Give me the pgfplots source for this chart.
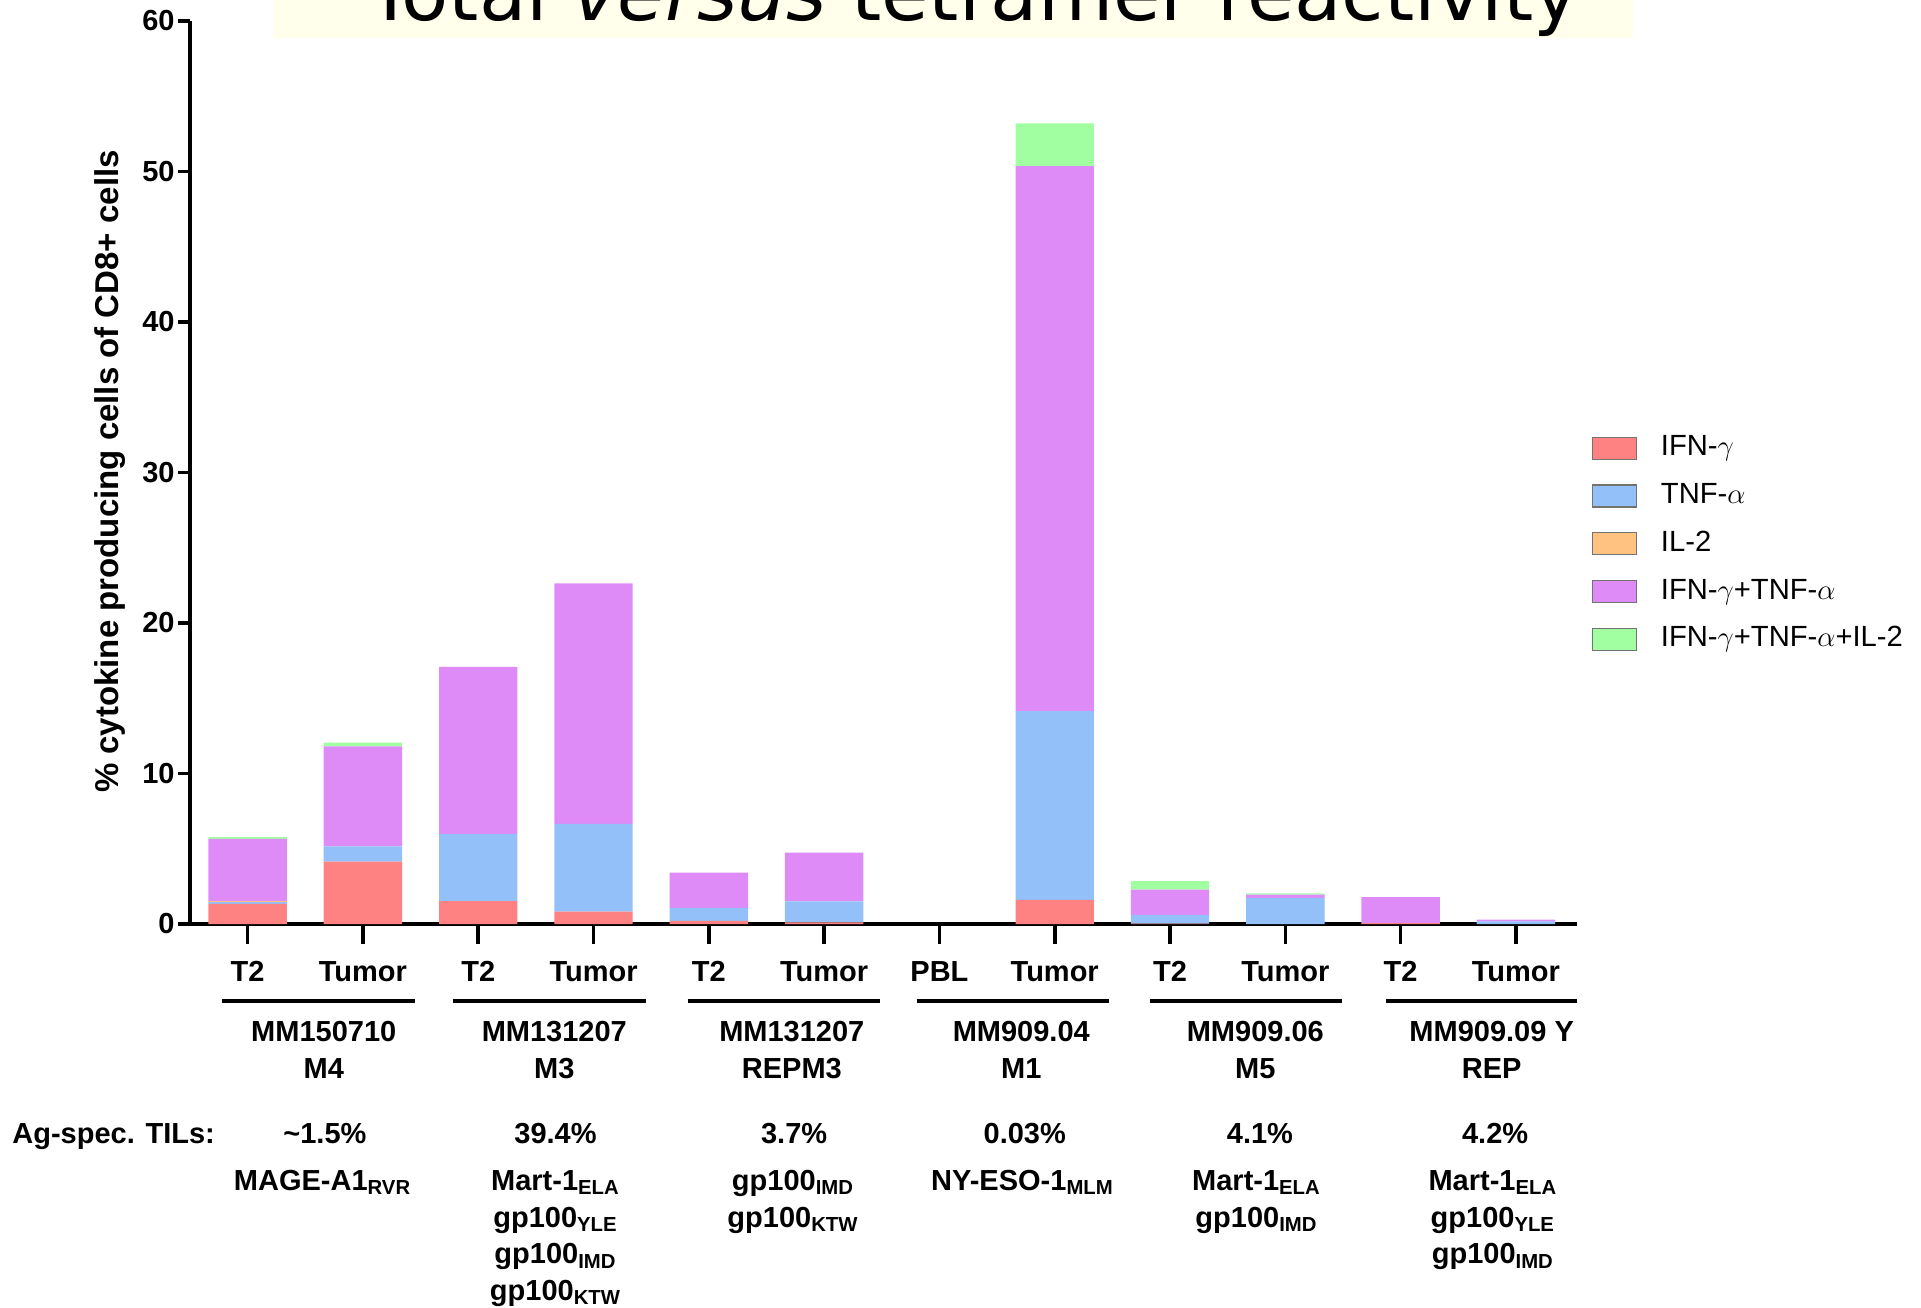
\documentclass[border=0pt]{standalone}
\usepackage{fontspec}
\setmainfont{Liberation Sans}
\newfontfamily\titlefont{DejaVu Sans}
\usepackage{pgfplots}
\usepackage{pgfplotstable}
\pgfplotsset{compat=1.18}

\definecolor{cIFN}{RGB}{255,130,130}
\definecolor{cTNF}{RGB}{147,192,248}
\definecolor{cIL}{RGB}{255,194,128}
\definecolor{cIT}{RGB}{222,139,247}
\definecolor{cITL}{RGB}{161,255,161}
\definecolor{titlebg}{RGB}{255,255,235}

% % of CD8+ cells producing each cytokine combination
\pgfplotstableread{
x  ifn   tnf   iltwo itnf  itnfil
0  1.34  0.12  0.08  4.11  0.13
1  4.15  1.00  0     6.65  0.25
2  1.52  4.46  0     11.10 0
3  0.83  5.82  0     15.99 0
4  0.20  0.87  0     2.35  0
5  0.11  1.39  0     3.25  0
6  0     0     0     0     0
7  1.61  12.54 0     36.20 2.85
8  0.03  0.57  0     1.68  0.57
9  0     1.74  0     0.22  0.07
10 0.06  0     0     1.72  0
11 0     0.18  0     0.11  0
}\cytokines

\newcommand{\lab}{\bfseries\fontsize{14.5}{18.4}\selectfont}
% one line of text below the axis: x in data units, baseline depth below the x axis
\newcommand{\below}[3]{\node[anchor=base, font=\lab, inner sep=0pt, yshift=-#2] at (axis cs:#1,0) {#3};}

\begin{document}
\begin{tikzpicture}
\path[use as bounding box] (0pt,0pt) rectangle (960.5pt,653.5pt);
\clip (0pt,0pt) rectangle (960.5pt,653.5pt);

% title banner
\fill[titlebg] (137pt,634.5pt) rectangle (816.5pt,670pt);
\node[anchor=base west, inner sep=0pt, font=\titlefont\fontsize{38.6}{40}\selectfont]
  at (183.5pt,643pt) {Total \textit{versus} tetramer reactivity};

\begin{axis}[
  at={(95pt,191.5pt)}, anchor=south west,
  scale only axis, width=693.5pt, height=451.5pt,
  xmin=-0.5, xmax=11.53, ymin=0, ymax=60,
  ybar stacked, bar width=0.68,
  axis x line*=bottom, axis y line*=left,
  axis line style={line width=1.8pt, black},
  ytick={0,10,...,60},
  tick align=outside, major tick length=6pt,
  tick style={line width=1.8pt, black},
  xtick={0,...,11},
  xticklabels={T2,Tumor,T2,Tumor,T2,Tumor,PBL,Tumor,T2,Tumor,T2,Tumor},
  xtick style={draw=none},
  ticklabel style={font=\lab},
  xticklabel style={anchor=base, yshift=-22.95pt, inner sep=0pt},
  yticklabel style={inner sep=1.5pt},
  /pgf/number format/assume math mode=true,
  clip=false,
  ylabel={\% cytokine producing cells of CD8+ cells},
  ylabel style={font=\bfseries\fontsize{16.5}{18}\selectfont,
    at={(axis description cs:-0.0577,0.501)}, anchor=center},
  every axis plot post/.append style={
    /pgfplots/legend image code/.code={
      \draw[##1, draw=black!55, line width=0.6pt] (0pt,-5.5pt) rectangle (22pt,5.5pt);}},
  legend cell align=left,
  legend style={at={(axis description cs:1.006,0.549)}, anchor=north west,
    draw=none, fill=none, font=\fontsize{14.6}{16}\selectfont,
    row sep=8.4pt, column sep=11pt,
    nodes={inner sep=1pt, text height=10.5pt, text depth=3pt}},
]
\addplot[fill=cIFN, draw=none] table[x=x, y=ifn] {\cytokines};
\addplot[fill=cTNF, draw=none] table[x=x, y=tnf] {\cytokines};
\addplot[fill=cIL,  draw=none] table[x=x, y=iltwo] {\cytokines};
\addplot[fill=cIT,  draw=none] table[x=x, y=itnf] {\cytokines};
\addplot[fill=cITL, draw=none] table[x=x, y=itnfil] {\cytokines};
\legend{IFN-$\gamma$, TNF-$\alpha$, IL-2, IFN-$\gamma$+TNF-$\alpha$, IFN-$\gamma$+TNF-$\alpha$+IL-2}

% x tick marks
\pgfplotsinvokeforeach{0,...,11}{
  \draw[line width=1.8pt] (axis cs:#1,0) -- ([yshift=-10pt]axis cs:#1,0);
}

% sample group brackets
\draw[line width=1.8pt] ([yshift=-38.5pt]axis cs:-0.22,0)  -- ([yshift=-38.5pt]axis cs:1.45,0);
\draw[line width=1.8pt] ([yshift=-38.5pt]axis cs:1.785,0)  -- ([yshift=-38.5pt]axis cs:3.454,0);
\draw[line width=1.8pt] ([yshift=-38.5pt]axis cs:3.815,0)  -- ([yshift=-38.5pt]axis cs:5.484,0);
\draw[line width=1.8pt] ([yshift=-38.5pt]axis cs:5.803,0)  -- ([yshift=-38.5pt]axis cs:7.472,0);
\draw[line width=1.8pt] ([yshift=-38.5pt]axis cs:7.822,0)  -- ([yshift=-38.5pt]axis cs:9.491,0);
\draw[line width=1.8pt] ([yshift=-38.5pt]axis cs:9.874,0)  -- ([yshift=-38.5pt]axis cs:11.53,0);

% TIL names
\below{0.66}{58.95pt}{MM150710}   \below{0.66}{77.3pt}{M4}
\below{2.66}{58.95pt}{MM131207}   \below{2.66}{77.3pt}{M3}
\below{4.72}{58.95pt}{MM131207}   \below{4.72}{77.3pt}{REPM3}
\below{6.71}{58.95pt}{MM909.04}   \below{6.71}{77.3pt}{M1}
\below{8.74}{58.95pt}{MM909.06}   \below{8.74}{77.3pt}{M5}
\below{10.79}{58.95pt}{MM909.09 Y}\below{10.79}{77.3pt}{REP}

% antigen-specific TIL fractions
\below{0.67}{109.8pt}{\textasciitilde1.5\%}
\below{2.67}{109.8pt}{39.4\%}
\below{4.74}{109.8pt}{3.7\%}
\below{6.74}{109.8pt}{0.03\%}
\below{8.78}{109.8pt}{4.1\%}
\below{10.82}{109.8pt}{4.2\%}

% epitopes
\below{0.65}{133.1pt}{MAGE-A1\textsubscript{RVR}}
\below{2.67}{133.1pt}{Mart-1\textsubscript{ELA}}
\below{2.67}{151.5pt}{gp100\textsubscript{YLE}}
\below{2.67}{169.9pt}{gp100\textsubscript{IMD}}
\below{2.67}{188.2pt}{gp100\textsubscript{KTW}}
\below{4.73}{133.1pt}{gp100\textsubscript{IMD}}
\below{4.73}{151.5pt}{gp100\textsubscript{KTW}}
\below{6.72}{133.1pt}{NY-ESO-1\textsubscript{MLM}}
\below{8.75}{133.1pt}{Mart-1\textsubscript{ELA}}
\below{8.75}{151.5pt}{gp100\textsubscript{IMD}}
\below{10.8}{133.1pt}{Mart-1\textsubscript{ELA}}
\below{10.8}{151.5pt}{gp100\textsubscript{YLE}}
\below{10.8}{169.9pt}{gp100\textsubscript{IMD}}
\end{axis}

\node[anchor=base west, font=\lab, inner sep=0pt] at (6pt,81.7pt) {Ag-spec. TILs:};
\end{tikzpicture}
\end{document}
